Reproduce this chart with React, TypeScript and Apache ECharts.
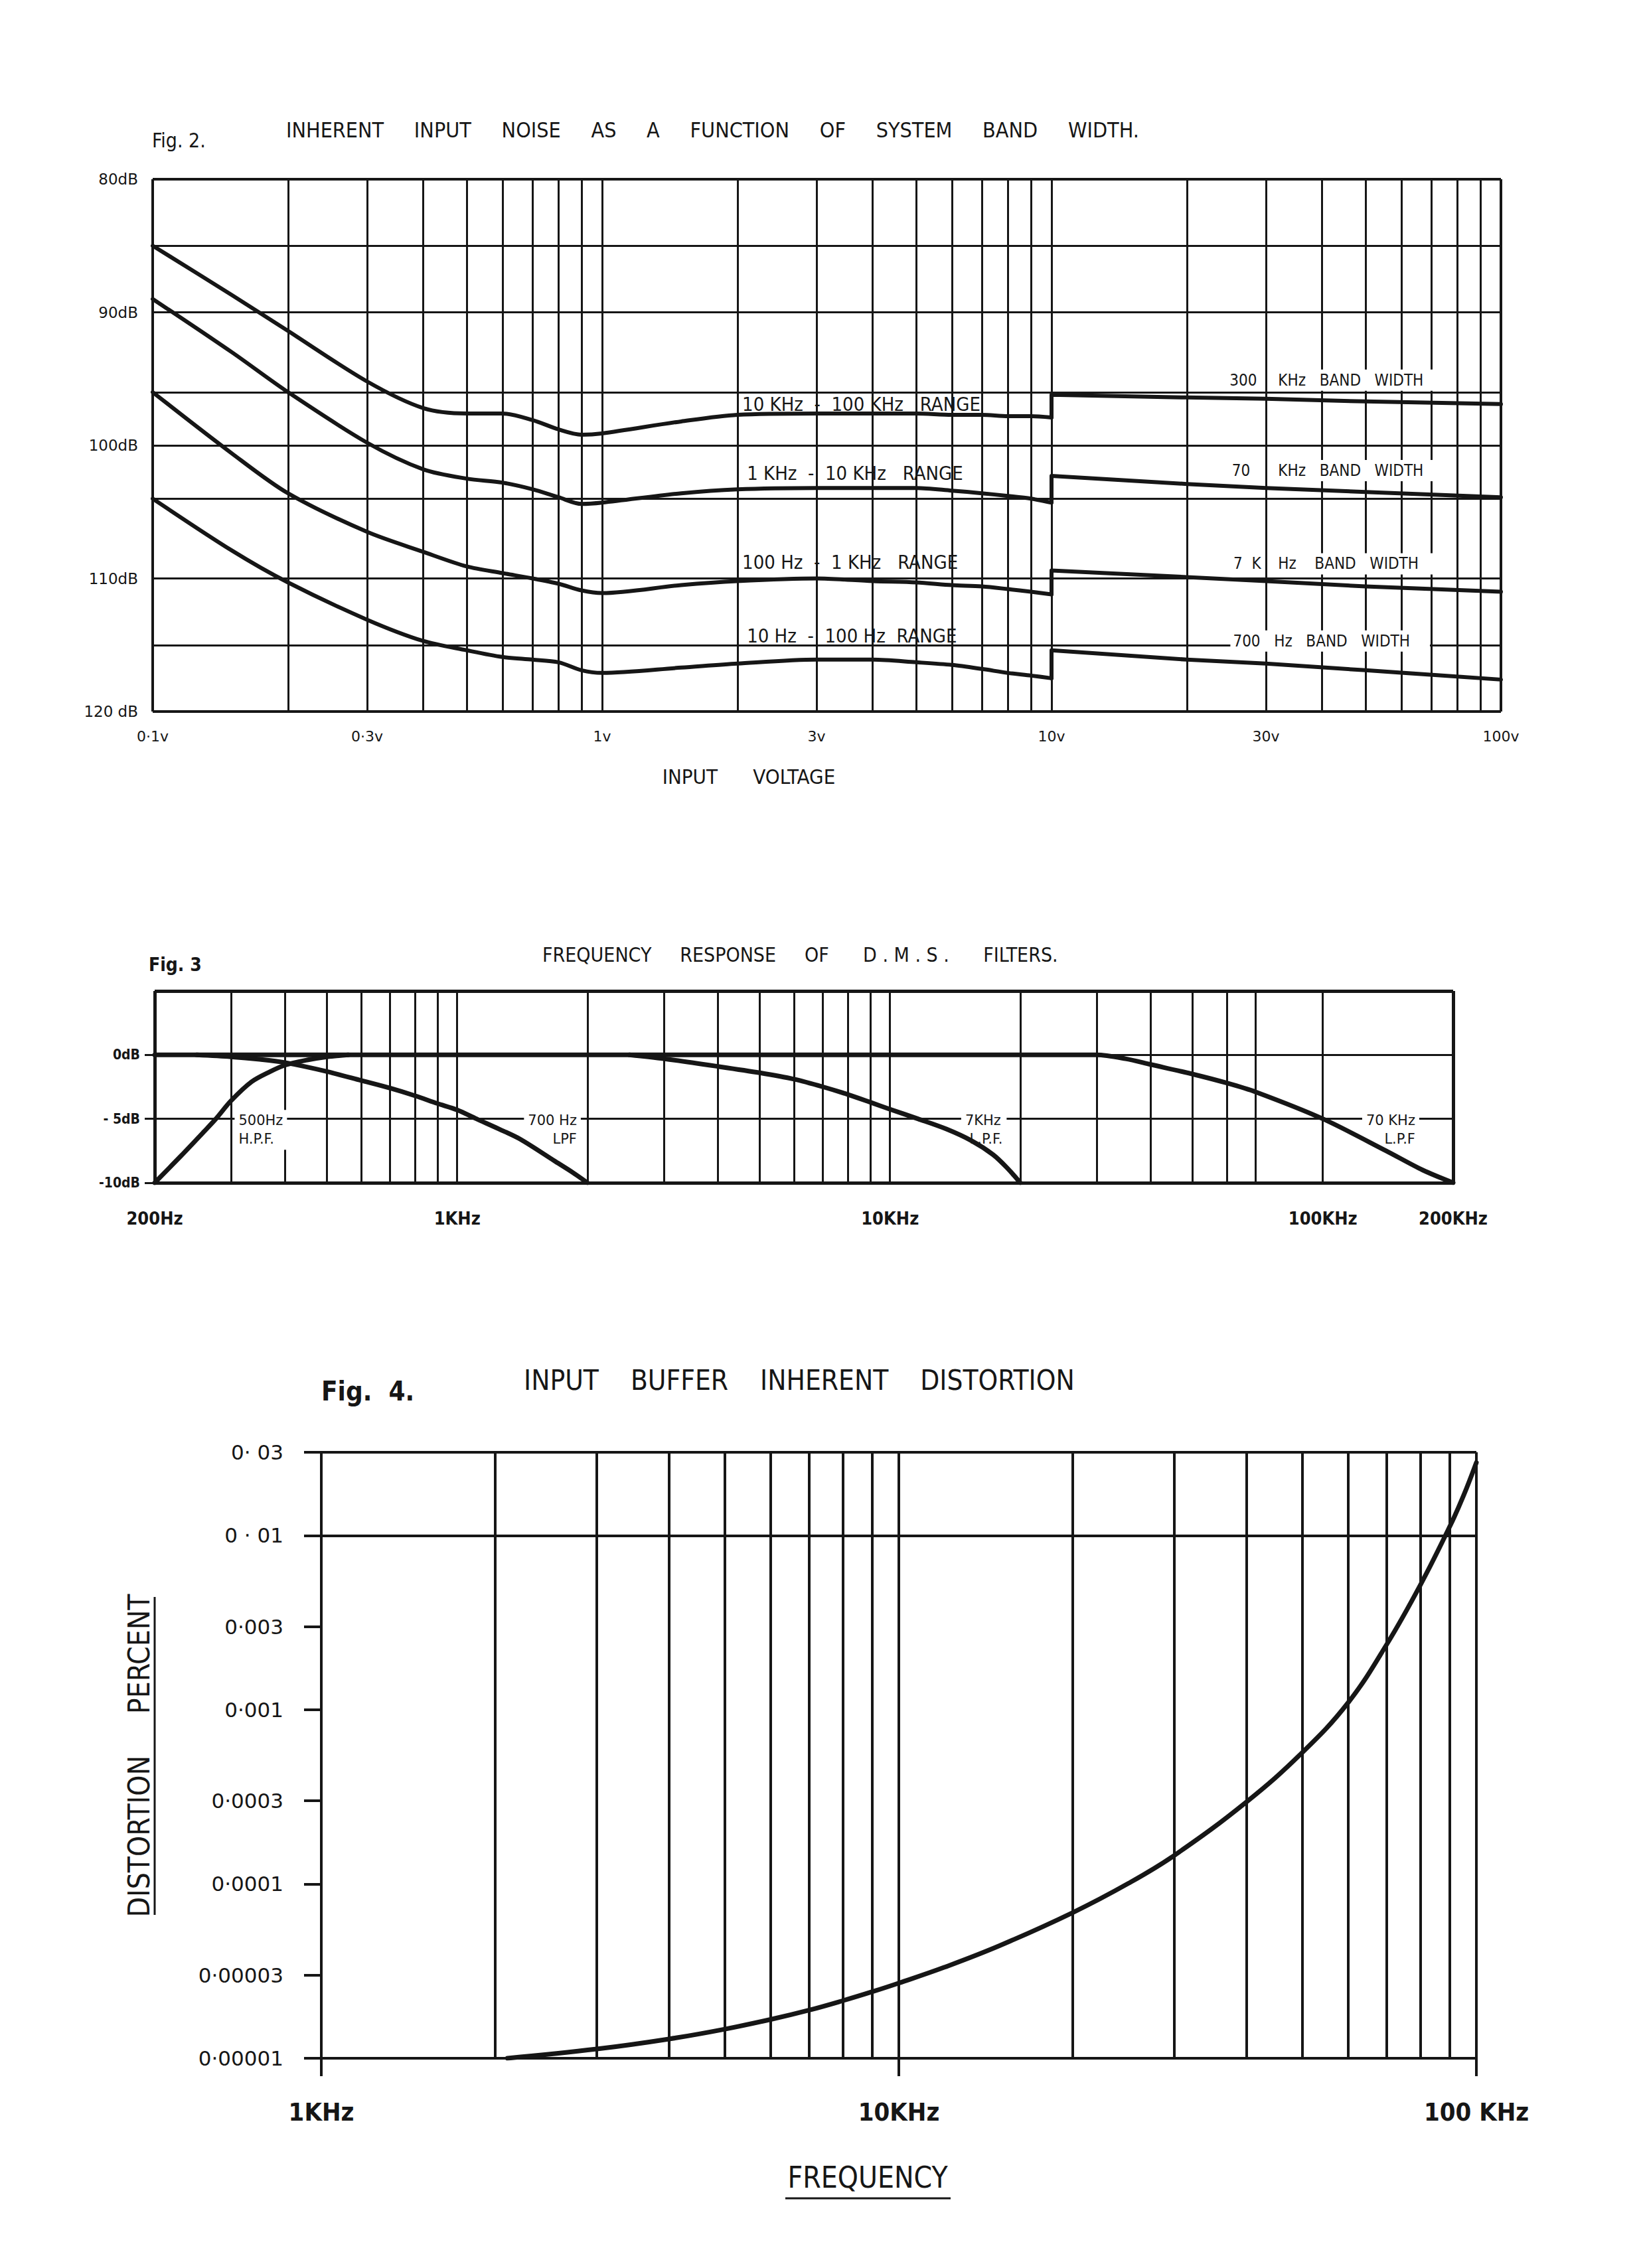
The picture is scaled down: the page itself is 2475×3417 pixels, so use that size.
import React, { useEffect, useRef } from 'react';
import * as echarts from 'echarts';

const INK = '#161616';
const FONT = '"DejaVu Sans Condensed", "DejaVu Sans", "Liberation Sans Narrow", sans-serif';
const WIDE = '"DejaVu Sans", "Liberation Sans", sans-serif';
const NB = '\u00a0';
const sp = (s: string) => s.replace(/ /g, NB);

// ---------------- Fig. 2 : inherent input noise (dB) vs input voltage ----------------
const fig2VoltsLow = [0.1, 0.15, 0.2, 0.3, 0.4, 0.5, 0.6, 0.7, 0.8, 0.9, 1, 1.5, 2, 3, 4, 5, 6, 7, 8, 9, 10];
const fig2Range10k100k = [85.0, 88.7, 91.4, 95.2, 97.2, 97.6, 97.6, 98.1, 98.8, 99.2, 99.1, 98.2, 97.7, 97.6, 97.6, 97.6, 97.7, 97.7, 97.8, 97.8, 97.9];
const fig2Range1k10k = [89.0, 93.0, 96.0, 99.8, 101.8, 102.5, 102.8, 103.3, 103.9, 104.4, 104.3, 103.6, 103.3, 103.2, 103.2, 103.2, 103.4, 103.6, 103.8, 104.0, 104.3];
const fig2Range100to1k = [96.0, 100.6, 103.6, 106.5, 108.0, 109.1, 109.6, 110.0, 110.4, 110.9, 111.1, 110.5, 110.2, 110.0, 110.2, 110.3, 110.5, 110.6, 110.8, 111.0, 111.2];
const fig2Range10to100 = [104.0, 107.9, 110.3, 113.1, 114.7, 115.4, 115.9, 116.1, 116.3, 116.9, 117.1, 116.7, 116.4, 116.1, 116.1, 116.3, 116.5, 116.8, 117.1, 117.3, 117.5];

const fig2VoltsHigh = [10, 10, 20, 30, 50, 100];
const fig2Band300k = [97.9, 96.2, 96.4, 96.5, 96.7, 96.9];
const fig2Band70k = [104.3, 102.3, 102.9, 103.2, 103.5, 103.9];
const fig2Band7k = [111.2, 109.4, 109.9, 110.2, 110.6, 111.0];
const fig2Band700 = [117.5, 115.4, 116.1, 116.4, 116.9, 117.6];

const fig2XTicks = [0.1, 0.3, 1, 3, 10, 30, 100];
const fig2XTickLabels = ['0·1v', '0·3v', '1v', '3v', '10v', '30v', '100v'];
const fig2YTicks = [80, 90, 100, 110, 120];
const fig2YTickLabels = ['80dB', '90dB', '100dB', '110dB', '120 dB'];
const fig2VGrid = [0.1, 0.2, 0.3, 0.4, 0.5, 0.6, 0.7, 0.8, 0.9, 1, 2, 3, 4, 5, 6, 7, 8, 9, 10, 20, 30, 40, 50, 60, 70, 80, 90, 100];
const fig2HGrid = [80, 85, 90, 96, 100, 104, 110, 115, 120];

const fig2Notes = [
  { text: '10 KHz  -  100 KHz   RANGE', x: 2.05, y: 96.9, size: 29 },
  { text: '1 KHz  -  10 KHz   RANGE', x: 2.1, y: 102.1, size: 29 },
  { text: '100 Hz  -  1 KHz   RANGE', x: 2.05, y: 108.8, size: 29 },
  { text: '10 Hz  -  100 Hz  RANGE', x: 2.1, y: 114.3, size: 29 },
  { text: '300', x: 24.9, y: 95.1, size: 24 },
  { text: 'KHz   BAND   WIDTH', x: 31.5, y: 95.1, size: 24, bg: true },
  { text: '70', x: 25.2, y: 101.9, size: 24 },
  { text: 'KHz   BAND   WIDTH', x: 31.5, y: 101.9, size: 24, bg: true },
  { text: '7  K', x: 25.4, y: 108.9, size: 24 },
  { text: 'Hz    BAND   WIDTH', x: 31.5, y: 108.9, size: 24, bg: true },
  { text: '700   Hz   BAND   WIDTH', x: 25.0, y: 114.7, size: 24, bg: true },
];

// ---------------- Fig. 3 : frequency response of D.M.S. filters ----------------
const fig3FlatFreq = [200, 1000, 10000, 30000, 35000, 40000, 50000, 60000, 70000, 100000, 140000, 170000, 200000];
const fig3FlatDb = [0, 0, 0, 0, -0.3, -0.75, -1.5, -2.2, -2.9, -5.0, -7.5, -9.0, -10];
const fig3Hpf500Freq = [200, 230, 260, 277, 300, 335, 370, 400, 450, 500, 560];
const fig3Hpf500Db = [-10, -7.9, -6.0, -5.0, -3.6, -2.1, -1.3, -0.8, -0.4, -0.15, 0];
const fig3Lpf700Freq = [250, 300, 350, 400, 500, 600, 700, 800, 900, 1000, 1108, 1250, 1400, 1680, 1850, 2000];
const fig3Lpf700Db = [0, -0.15, -0.35, -0.6, -1.3, -2.0, -2.6, -3.2, -3.8, -4.3, -5.0, -5.8, -6.6, -8.3, -9.2, -10];
const fig3Lpf7kFreq = [2500, 3000, 4000, 5000, 6000, 7000, 8000, 9000, 10000, 11600, 13500, 15400, 17300, 18600, 20000];
const fig3Lpf7kDb = [0, -0.3, -0.9, -1.4, -1.9, -2.5, -3.1, -3.7, -4.25, -5.0, -5.8, -6.7, -7.8, -8.8, -10];

const fig3XTicks = [200, 1000, 10000, 100000, 200000];
const fig3XTickLabels = ['200Hz', '1KHz', '10KHz', '100KHz', '200KHz'];
const fig3YTicks = [0, -5, -10];
const fig3YTickLabels = ['0dB', '- 5dB', '-10dB'];
const fig3VGrid = [200, 300, 400, 500, 600, 700, 800, 900, 1000, 2000, 3000, 4000, 5000, 6000, 7000, 8000, 9000, 10000, 20000, 30000, 40000, 50000, 60000, 70000, 100000, 200000];
const fig3HGrid = [5, 0, -5, -10];

const fig3Notes = [
  { text: '500Hz\nH.P.F.', x: 306, y: -4.3, align: 'left' },
  { text: '700 Hz\nLPF', x: 1930, y: -4.3, align: 'right' },
  { text: '7KHz\n L.P.F.', x: 14600, y: -4.3, align: 'left' },
  { text: '70 KHz\nL.P.F', x: 167000, y: -4.3, align: 'right' },
];

// ---------------- Fig. 4 : input buffer inherent distortion ----------------
const fig4Freq = [2100, 3000, 4000, 5000, 6000, 7000, 8000, 9000, 10000, 12000, 15000, 20000, 25000, 30000, 40000, 50000, 60000, 70000, 80000, 90000, 95000, 100000];
const fig4Distortion = [1.0e-5, 1.13e-5, 1.29e-5, 1.47e-5, 1.67e-5, 1.89e-5, 2.14e-5, 2.41e-5, 2.7e-5, 3.33e-5, 4.45e-5, 6.85e-5, 1.01e-4, 1.46e-4, 2.96e-4, 5.7e-4, 1.1e-3, 2.38e-3, 5.2e-3, 1.13e-2, 1.69e-2, 2.62e-2];

const fig4XTicks = [1000, 10000, 100000];
const fig4XTickLabels = ['1KHz', '10KHz', '100 KHz'];
const fig4YTicks = [0.00001, 0.00003, 0.0001, 0.0003, 0.001, 0.003, 0.01, 0.03];
const fig4YTickLabels = ['0·00001', '0·00003', '0·0001', '0·0003', '0·001', '0·003', '0 · 01', '0· 03'];
const fig4VGrid = [1000, 2000, 3000, 4000, 5000, 6000, 7000, 8000, 9000, 10000, 20000, 30000, 40000, 50000, 60000, 70000, 80000, 90000, 100000];
const fig4HGrid = [0.00001, 0.00003, 0.0001, 0.0003, 0.001, 0.003, 0.01, 0.03];

// ---------------- helpers ----------------
const lookup = (ticks: number[], labels: string[], log: boolean) => (v: number) => {
  const i = ticks.findIndex((t) =>
    log ? Math.abs(Math.log10(t) - Math.log10(v)) < 1e-6 : Math.abs(t - v) < 1e-6
  );
  return i >= 0 ? sp(labels[i]) : '';
};

const pairs = (xs: number[], ys: number[]) => xs.map((x, i) => [x, ys[i]]);

const gridLines = (idx: number, v: number[], h: number[], inner: number, frame: number) => {
  const vMin = v[0], vMax = v[v.length - 1];
  const hMin = Math.min(...h), hMax = Math.max(...h);
  return {
    type: 'line',
    xAxisIndex: idx,
    yAxisIndex: idx,
    data: [],
    silent: true,
    z: 1,
    markLine: {
      z: 1,
      silent: true,
      animation: false,
      symbol: ['none', 'none'],
      label: { show: false },
      emphasis: { disabled: true },
      lineStyle: { color: INK, type: 'solid', width: inner },
      data: [
        ...v.map((x) => ({
          xAxis: x,
          lineStyle: { color: INK, type: 'solid', width: x === vMin || x === vMax ? frame : inner },
        })),
        ...h.map((y) => ({
          yAxis: y,
          lineStyle: { color: INK, type: 'solid', width: y === hMin || y === hMax ? frame : inner },
        })),
      ],
    },
  };
};

const notesSeries = (idx: number, notes: any[], base: any) => ({
  type: 'line',
  xAxisIndex: idx,
  yAxisIndex: idx,
  data: [],
  silent: true,
  z: 2,
  markPoint: {
    z: 2,
    silent: true,
    animation: false,
    symbol: 'rect',
    symbolSize: 1,
    itemStyle: { color: 'rgba(0,0,0,0)' },
    data: notes.map((n) => ({
      coord: [n.x, n.y],
      label: {
        show: true,
        position: 'inside',
        formatter: sp(n.text),
        align: n.align || 'left',
        verticalAlign: base.verticalAlign || 'middle',
        color: INK,
        fontFamily: base.fontFamily || FONT,
        fontSize: n.size || base.fontSize,
        fontWeight: base.fontWeight || 'normal',
        lineHeight: base.lineHeight,
        backgroundColor: n.bg || base.bg ? '#ffffff' : 'transparent',
        padding: n.bg || base.bg ? base.padding || [4, 30, 4, 4] : 0,
      },
    })),
  },
});

const curve = (idx: number, data: number[][], width: number, smooth: number | boolean) => ({
  type: 'line',
  xAxisIndex: idx,
  yAxisIndex: idx,
  data,
  z: 6,
  smooth,
  symbol: 'none',
  showSymbol: false,
  silent: true,
  lineStyle: { color: INK, width, cap: 'round', join: 'round' },
});

const hiddenAxisParts = {
  axisLine: { show: false },
  axisTick: { show: false },
  splitLine: { show: false },
  minorSplitLine: { show: false },
};

const text = (t: string, x: number, y: number, size: number, opts: any = {}) => ({
  type: 'text',
  x,
  y,
  rotation: opts.rotation || 0,
  silent: true,
  style: {
    text: sp(t),
    fill: INK,
    fontFamily: opts.family || FONT,
    fontSize: size,
    fontWeight: opts.weight || 'normal',
    textAlign: opts.align || 'left',
    align: opts.align || 'left',
    textVerticalAlign: 'middle',
    verticalAlign: 'middle',
  },
});

const line = (x1: number, y1: number, x2: number, y2: number, w: number) => ({
  type: 'line',
  silent: true,
  shape: { x1, y1, x2, y2 },
  style: { stroke: INK, lineWidth: w },
});

export default function App() {
  const ref = useRef<HTMLDivElement>(null);

  useEffect(() => {
    if (!ref.current) return;
    const chart = echarts.init(ref.current, null, { renderer: 'svg', width: 2475, height: 3417 });

    const option: any = {
      animation: false,
      backgroundColor: '#ffffff',
      textStyle: { fontFamily: FONT, color: INK },
      grid: [
        { left: 230, top: 270, width: 2031, height: 802, outerBoundsMode: 'none' },
        { left: 233, top: 1493, width: 1956, height: 289, outerBoundsMode: 'none' },
        { left: 484, top: 2188, width: 1740, height: 913, outerBoundsMode: 'none' },
      ],
      xAxis: [
        {
          gridIndex: 0,
          type: 'log',
          logBase: 10,
          min: 0.1,
          max: 100,
          ...hiddenAxisParts,
          axisLabel: {
            customValues: fig2XTicks,
            formatter: lookup(fig2XTicks, fig2XTickLabels, true),
            margin: 26,
            fontSize: 22,
            color: INK,
            fontFamily: WIDE,
          },
        },
        {
          gridIndex: 1,
          type: 'log',
          logBase: 10,
          min: 200,
          max: 200000,
          ...hiddenAxisParts,
          axisLabel: {
            customValues: fig3XTicks,
            formatter: lookup(fig3XTicks, fig3XTickLabels, true),
            margin: 40,
            fontSize: 27,
            fontWeight: 'bold',
            color: INK,
            fontFamily: FONT,
          },
        },
        {
          gridIndex: 2,
          type: 'log',
          logBase: 10,
          min: 1000,
          max: 100000,
          axisLine: { show: true, lineStyle: { color: INK, width: 4 } },
          axisTick: { show: true, customValues: fig4XTicks, length: 27, inside: false, lineStyle: { color: INK, width: 4 } },
          splitLine: { show: false },
          minorSplitLine: { show: false },
          axisLabel: {
            customValues: fig4XTicks,
            formatter: lookup(fig4XTicks, fig4XTickLabels, true),
            margin: 62,
            fontSize: 38,
            fontWeight: 'bold',
            color: INK,
            fontFamily: FONT,
          },
        },
      ],
      yAxis: [
        {
          gridIndex: 0,
          type: 'value',
          inverse: true,
          min: 80,
          max: 120,
          interval: 10,
          ...hiddenAxisParts,
          axisLabel: {
            customValues: fig2YTicks,
            formatter: lookup(fig2YTicks, fig2YTickLabels, false),
            margin: 22,
            fontSize: 23,
            color: INK,
            fontFamily: WIDE,
          },
        },
        {
          gridIndex: 1,
          type: 'value',
          min: -10,
          max: 5,
          interval: 5,
          axisLine: { show: false },
          axisTick: { show: true, customValues: fig3YTicks, length: 15, inside: false, lineStyle: { color: INK, width: 3 } },
          splitLine: { show: false },
          axisLabel: {
            customValues: fig3YTicks,
            formatter: lookup(fig3YTicks, fig3YTickLabels, false),
            margin: 22,
            fontSize: 21,
            fontWeight: 'bold',
            color: INK,
            fontFamily: FONT,
          },
        },
        {
          gridIndex: 2,
          type: 'log',
          logBase: 10,
          min: 0.00001,
          max: 0.03,
          axisLine: { show: true, lineStyle: { color: INK, width: 4 } },
          axisTick: { show: true, customValues: fig4YTicks, length: 26, inside: false, lineStyle: { color: INK, width: 4 } },
          splitLine: { show: false },
          minorSplitLine: { show: false },
          axisLabel: {
            customValues: fig4YTicks,
            formatter: lookup(fig4YTicks, fig4YTickLabels, true),
            margin: 57,
            fontSize: 31,
            color: INK,
            fontFamily: WIDE,
          },
        },
      ],
      series: [
        gridLines(0, fig2VGrid, fig2HGrid, 3, 4),
        gridLines(1, fig3VGrid, fig3HGrid, 3, 5),
        gridLines(2, fig4VGrid, fig4HGrid, 4, 4),

        notesSeries(0, fig2Notes, { fontSize: 29 }),
        notesSeries(1, fig3Notes, {
          fontSize: 21,
          fontFamily: WIDE,
          lineHeight: 28,
          verticalAlign: 'top',
          bg: true,
          padding: [2, 6, 2, 6],
        }),

        curve(0, pairs(fig2VoltsLow, fig2Range10k100k), 6, 0.3),
        curve(0, pairs(fig2VoltsLow, fig2Range1k10k), 6, 0.3),
        curve(0, pairs(fig2VoltsLow, fig2Range100to1k), 6, 0.3),
        curve(0, pairs(fig2VoltsLow, fig2Range10to100), 6, 0.3),
        curve(0, pairs(fig2VoltsHigh, fig2Band300k), 6, false),
        curve(0, pairs(fig2VoltsHigh, fig2Band70k), 6, false),
        curve(0, pairs(fig2VoltsHigh, fig2Band7k), 6, false),
        curve(0, pairs(fig2VoltsHigh, fig2Band700), 6, false),

        curve(1, pairs(fig3FlatFreq, fig3FlatDb), 7, 0.3),
        curve(1, pairs(fig3Hpf500Freq, fig3Hpf500Db), 7, 0.3),
        curve(1, pairs(fig3Lpf700Freq, fig3Lpf700Db), 7, 0.3),
        curve(1, pairs(fig3Lpf7kFreq, fig3Lpf7kDb), 7, 0.3),

        curve(2, pairs(fig4Freq, fig4Distortion), 7, 0.4),
      ],
      graphic: [
        text('Fig. 2.', 229, 211, 30),
        text('INHERENT     INPUT     NOISE     AS     A     FUNCTION     OF     SYSTEM     BAND     WIDTH.', 431, 196, 32),
        text('INPUT      VOLTAGE', 1128, 1170, 31, { align: 'center' }),
        text('Fig. 3', 224, 1453, 28, { weight: 'bold' }),
        text('FREQUENCY     RESPONSE     OF      D . M . S .      FILTERS.', 817, 1438, 30),
        text('Fig.  4.', 484, 2096, 40, { weight: 'bold' }),
        text('INPUT    BUFFER    INHERENT    DISTORTION', 789, 2079, 42),
        text('DISTORTION     PERCENT', 209, 2645, 44, { align: 'center', rotation: Math.PI / 2 }),
        line(233, 2406, 233, 2885, 3),
        text('FREQUENCY', 1307, 3280, 44, { align: 'center' }),
        line(1183, 3312, 1432, 3312, 3),
      ],
    };

    chart.setOption(option);
    return () => chart.dispose();
  }, []);

  return (
    <div
      ref={ref}
      style={{ position: 'absolute', left: 0, top: 0, width: 2475, height: 3417, background: '#ffffff' }}
    />
  );
}
